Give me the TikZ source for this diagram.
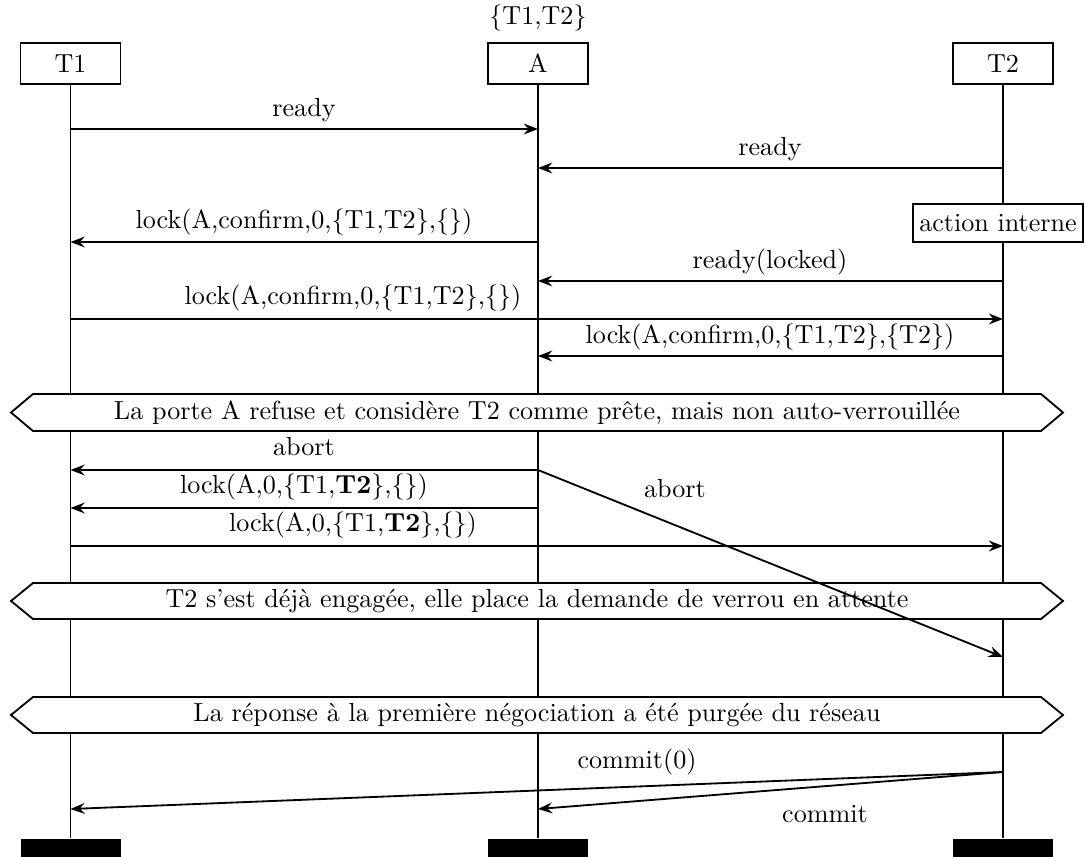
\documentclass[tikz,border=0pt]{standalone}
\usetikzlibrary{arrows.meta}
\begin{document}
\begin{tikzpicture}[x=0.383pt,y=-0.383pt,
  every node/.style={font=\normalsize},
  inst/.style={draw,line width=0.7pt,fill=white,minimum width=100*0.383pt,minimum height=41*0.383pt,inner sep=0pt},
  endbar/.style={fill=black,draw=none,minimum width=100*0.383pt,minimum height=22*0.383pt,inner sep=0pt},
  life/.style={line width=0.7pt},
  msg/.style={line width=0.7pt,-{Stealth[length=5.5pt,width=4.2pt,inset=2pt]}},
  lbl/.style={inner sep=0pt},
  hexa/.style={draw,line width=0.7pt,fill=white},
  act/.style={draw,line width=0.7pt,fill=white,minimum width=170*0.383pt,minimum height=38*0.383pt,inner sep=0pt}]
\useasboundingbox (0,0) rectangle (1086,856);
% instances
\node[inst] (T1) at (70.5,63.5) {T1};
\node[inst] (A) at (538,63.5) {A};
\node[inst] (T2) at (1003,63.5) {T2};
\node[lbl] (Aset) at (538,18) {\{T1,T2\}};
% end bars
\node[endbar] (T1e) at (70.5,850) {};
\node[endbar] (Ae) at (538,850) {};
\node[endbar] (T2e) at (1003,850) {};
% lifelines
\draw[life] (T1.south) -- (T1e.north);
\draw[life] (A.south) -- (Ae.north);
\draw[life] (T2.south) -- (T2e.north);
% internal action
\node[act] (act) at (998,223) {action interne};
% messages
\draw[msg] (T1 |- 0,129) -- (A |- 0,129);
\node[lbl] (l1) at (304,110) {ready};
\draw[msg] (T2 |- 0,168) -- (A |- 0,168);
\node[lbl] (l2) at (770,149) {ready};
\draw[msg] (A |- 0,242) -- (T1 |- 0,242);
\node[lbl] (l3) at (304,222) {lock(A,confirm,0,\{T1,T2\},\{\})};
\draw[msg] (T2 |- 0,281) -- (A |- 0,281);
\node[lbl] (l4) at (770,262) {ready(locked)};
\draw[msg] (T1 |- 0,319) -- (T2 |- 0,319);
\node[lbl] (l5) at (353,298) {lock(A,confirm,0,\{T1,T2\},\{\})};
\draw[msg] (T2 |- 0,356) -- (A |- 0,356);
\node[lbl] (l6) at (770,337) {lock(A,confirm,0,\{T1,T2\},\{T2\})};
% hex 1
\draw[hexa] (11,412.5) -- (33,394) -- (1041,394) -- (1063,412.5) -- (1041,431) -- (33,431) -- cycle;
\node[lbl] (h1) at (537,412.5) {La porte A refuse et considère T2 comme prête, mais non auto-verrouillée};
% hex 2
\draw[hexa] (11,601) -- (33,583) -- (1041,583) -- (1063,601) -- (1041,619) -- (33,619) -- cycle;
\node[lbl] (h2) at (537,601) {T2 s'est déjà engagée, elle place la demande de verrou en attente};
% after
\draw[msg] (A |- 0,470) -- (T1 |- 0,470);
\node[lbl] (l7) at (304,447) {abort};
\draw[msg] (A |- 0,508) -- (T1 |- 0,508);
\node[lbl] (l8) at (304,487) {lock(A,0,\{T1,\textbf{T2}\},\{\})};
\draw[msg] (T1 |- 0,546) -- (T2 |- 0,546);
\node[lbl] (l9) at (353,525) {lock(A,0,\{T1,\textbf{T2}\},\{\})};
\draw[msg] (A |- 0,470) -- (T2 |- 0,657);
\node[lbl] (l10) at (675,489) {abort};
% hex 3
\draw[hexa] (11,715) -- (33,697) -- (1041,697) -- (1063,715) -- (1041,733) -- (33,733) -- cycle;
\node[lbl] (h3) at (537,715) {La réponse à la première négociation a été purgée du réseau};
% commits
\draw[msg] (T2 |- 0,772) -- (T1 |- 0,809);
\node[lbl] (l11) at (637,762) {commit(0)};
\draw[msg] (T2 |- 0,772) -- (A |- 0,809);
\node[lbl] (l12) at (825,814) {commit};
\end{tikzpicture}
\end{document}
